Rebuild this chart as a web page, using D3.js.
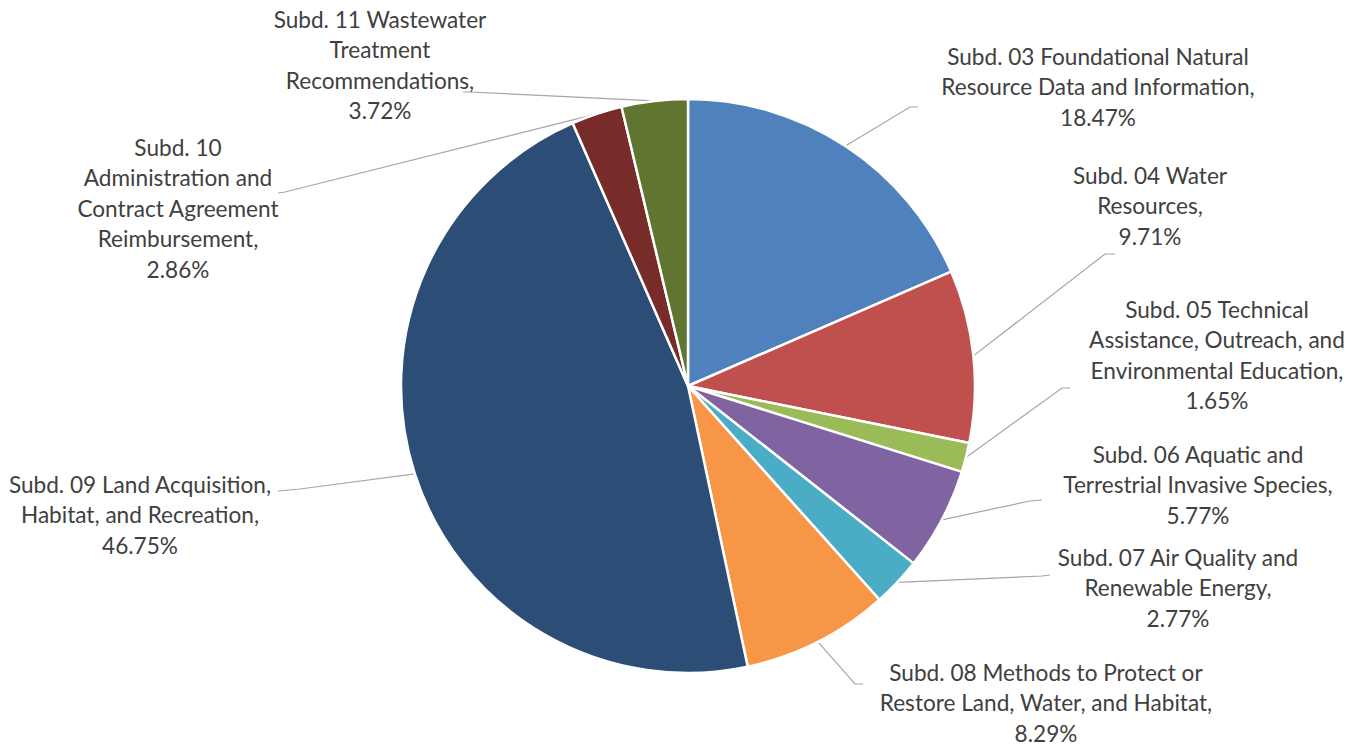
<!DOCTYPE html>
<html>
<head>
<meta charset="utf-8">
<script src="https://cdn.jsdelivr.net/npm/d3@7"></script>
<style>
  html, body { margin: 0; padding: 0; background: #fff; }
  svg text { font-family: Lato, "Open Sans", sans-serif; fill: #404040; }
</style>
</head>
<body>
<svg id="svg" width="1359" height="746"></svg>
<script>
// 数据
var categories = ['Subd. 03', 'Subd. 04', 'Subd. 05', 'Subd. 06', 'Subd. 07',
                  'Subd. 08', 'Subd. 09', 'Subd. 10', 'Subd. 11'];
var shares = [18.47, 9.71, 1.65, 5.77, 2.77, 8.29, 46.75, 2.86, 3.72];
var labelLines = [
  ['Subd. 03 Foundational Natural', 'Resource Data and Information,'],
  ['Subd. 04 Water', 'Resources,'],
  ['Subd. 05 Technical', 'Assistance, Outreach, and', 'Environmental Education,'],
  ['Subd. 06 Aquatic and', 'Terrestrial Invasive Species,'],
  ['Subd. 07 Air Quality and', 'Renewable Energy,'],
  ['Subd. 08 Methods to Protect or', 'Restore Land, Water, and Habitat,'],
  ['Subd. 09 Land Acquisition,', 'Habitat, and Recreation,'],
  ['Subd. 10', 'Administration and', 'Contract Agreement', 'Reimbursement,'],
  ['Subd. 11 Wastewater', 'Treatment', 'Recommendations,']
];
var colors = ['#4f81bd', '#c0504d', '#9bbb59', '#8064a2', '#4bacc6',
              '#f79646', '#2c4d75', '#772c2a', '#5f7530'];

/*************************** 标签布局 ******************************/
// 标签中心x, 第一行y, 引导线折点
var labelPos = [
  {x: 1098, y: 57,  pts: [[910, 107], [918, 107]]},
  {x: 1150, y: 176, pts: [[1105, 254], [1115, 254]]},
  {x: 1217, y: 310, pts: [[1062, 388], [1070, 388]]},
  {x: 1198, y: 455, pts: [[1030, 501], [1042, 500]]},
  {x: 1178, y: 558, pts: [[1042, 576], [1050, 575]]},
  {x: 1046, y: 673, pts: [[855, 684], [863, 684]]},
  {x: 140,  y: 485, pts: [[300, 489], [278, 491]]},
  {x: 178,  y: 148, pts: [[285, 192], [278, 193]]},
  {x: 380,  y: 20,  pts: [[470, 92], [463, 92]]}
];

var svg = d3.select('#svg');
var cx = 688, cy = 386, r = 287;
var lineH = 30.5;

var pie = d3.pie().sort(null).value(function(d) { return d; });
var arcs = pie(shares);
var arc = d3.arc().innerRadius(0).outerRadius(r);

var g = svg.append('g').attr('transform', 'translate(' + cx + ',' + cy + ')');

// 引导线
arcs.forEach(function(a, i) {
  var mid = (a.startAngle + a.endAngle) / 2;
  var p0 = [r * Math.sin(mid), -r * Math.cos(mid)];
  var pts = [p0].concat(labelPos[i].pts.map(function(p) { return [p[0] - cx, p[1] - cy]; }));
  g.append('path')
    .attr('d', d3.line()(pts))
    .attr('fill', 'none')
    .attr('stroke', '#a6a6a6')
    .attr('stroke-width', 1.2);
});

// 扇区
g.selectAll('path.slice').data(arcs).enter().append('path')
  .attr('class', 'slice')
  .attr('d', arc)
  .attr('fill', function(d, i) { return colors[i]; })
  .attr('stroke', '#fff')
  .attr('stroke-width', 2.5)
  .attr('stroke-linejoin', 'round');

// 标签
labelLines.forEach(function(lines, i) {
  var all = lines.concat([shares[i].toFixed(2) + '%']);
  var t = svg.append('text')
    .attr('text-anchor', 'middle')
    .attr('font-size', 22.6);
  all.forEach(function(s, k) {
    t.append('tspan')
      .attr('x', labelPos[i].x)
      .attr('y', labelPos[i].y + k * lineH)
      .attr('dy', '0.35em')
      .text(s);
  });
});
</script>
</body>
</html>
